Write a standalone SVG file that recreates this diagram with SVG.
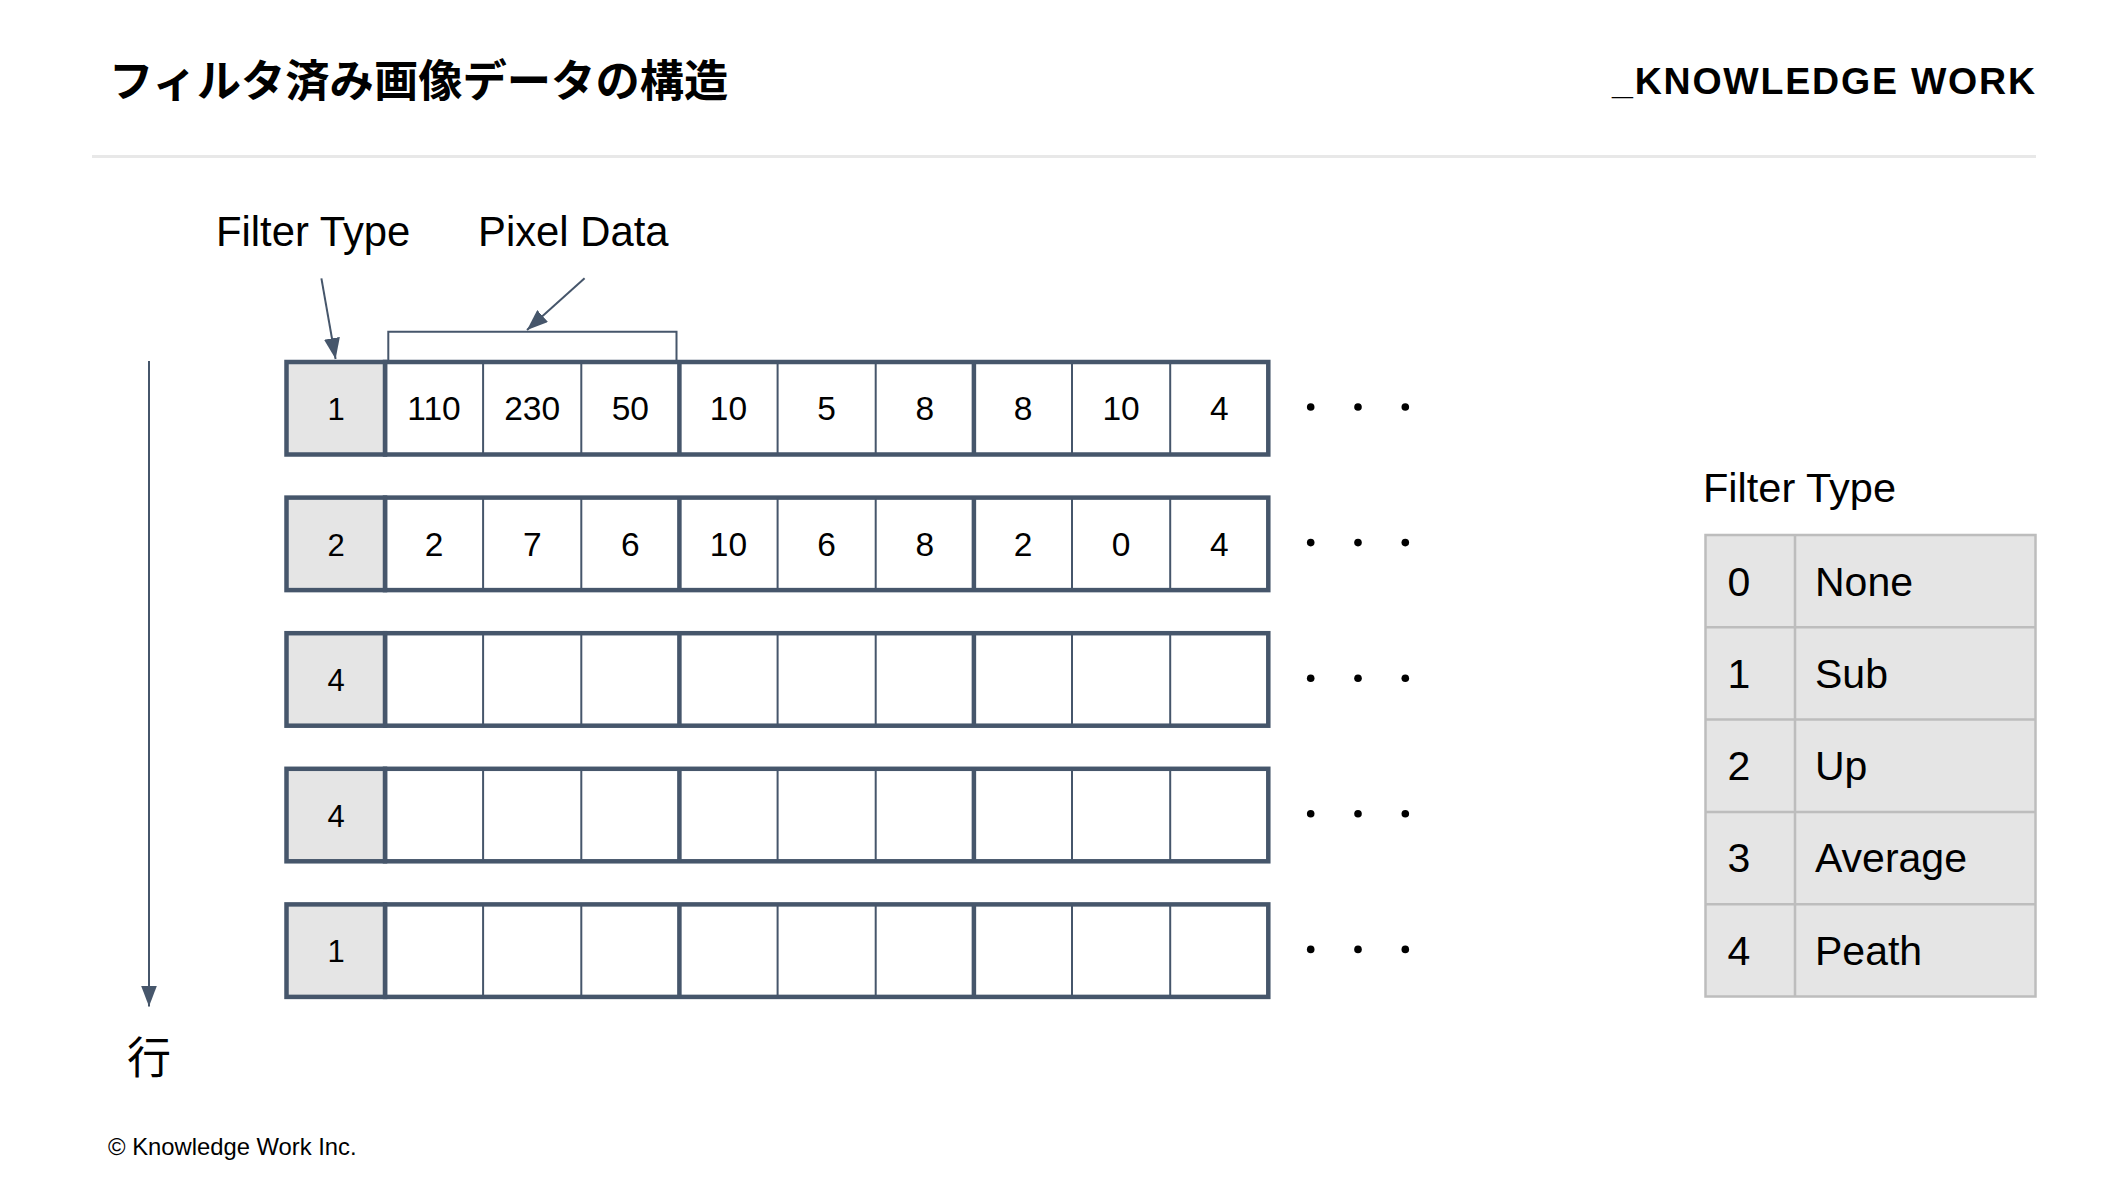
<svg xmlns="http://www.w3.org/2000/svg" width="2128" height="1190" viewBox="0 0 2128 1190">
<style>
.t{font-family:"Liberation Sans",Arial,"Noto Sans CJK JP",sans-serif;fill:#000}
.jp{font-family:"Noto Sans CJK JP","Liberation Sans",sans-serif;fill:#000}
.fc{fill:#e5e5e5;stroke:#46566b;stroke-width:4.5}
.dc{fill:#fff;stroke:#46566b;stroke-width:4.5}
.thin{stroke:#46566b;stroke-width:2;fill:none}
.thick{stroke:#46566b;stroke-width:4.5;fill:none}
.fd{font-size:31px;text-anchor:middle}
.dd{font-size:33.5px;text-anchor:middle}
.dot{fill:#000}
.tb{fill:#e5e5e5;stroke:#bdbdbd;stroke-width:2.5}
.tl{stroke:#bdbdbd;stroke-width:2.5}
.tt{font-size:41px}
.arr{stroke:#46566b;stroke-width:2;fill:none}
</style>
<defs>
<marker id="ah" markerUnits="userSpaceOnUse" markerWidth="22" markerHeight="16" refX="21" refY="8" orient="auto">
<path d="M0,0 L21,8 L0,16 Z" fill="#46566b"/>
</marker>
</defs>

<g id="header">
<text class="jp" x="109" y="97" font-size="44.3" font-weight="bold">フィルタ済み画像データの構造</text>
<text class="t" x="1612" y="94" font-size="37.5" font-weight="bold" textLength="423" lengthAdjust="spacing">_KNOWLEDGE WORK</text>
<line x1="92" y1="156.5" x2="2036" y2="156.5" stroke="#e8e8e8" stroke-width="3"/>
</g>

<g id="labels">
<text class="t" x="216" y="246" font-size="41.8">Filter Type</text>
<text class="t" x="478" y="246" font-size="41.8">Pixel Data</text>
<text class="jp" x="149" y="1074" font-size="44" text-anchor="middle">行</text>
<text class="t" x="108" y="1155" font-size="23.8">© Knowledge Work Inc.</text>
</g>

<g id="connectors">
<line class="arr" x1="321.4" y1="278.3" x2="335.6" y2="359" marker-end="url(#ah)"/>
<line class="arr" x1="584.6" y1="278.3" x2="527" y2="330" marker-end="url(#ah)"/>
<path class="thin" d="M388.3,362 V331.7 H676.5 V362"/>
<line class="arr" x1="149" y1="361" x2="149" y2="1006.5" marker-end="url(#ah)"/>
</g>

<g id="row1">
<rect class="dc" x="385" y="362" width="883.3" height="92.5"/>
<path class="thin" d="M483.1,362V454.5M581.3,362V454.5M777.6,362V454.5M875.7,362V454.5M1072,362V454.5M1170.2,362V454.5"/>
<path class="thick" d="M679.4,362V454.5M973.9,362V454.5"/>
<rect class="fc" x="286.5" y="362" width="98.5" height="92.5"/>
<text class="t fd" x="336" y="420">1</text>
<g class="t dd">
<text x="434" y="420">110</text><text x="532.2" y="420">230</text><text x="630.3" y="420">50</text>
<text x="728.5" y="420">10</text><text x="826.6" y="420">5</text><text x="924.8" y="420">8</text>
<text x="1023" y="420">8</text><text x="1121.1" y="420">10</text><text x="1219.2" y="420">4</text>
</g>
<circle class="dot" cx="1310.7" cy="407" r="3.8"/><circle class="dot" cx="1358" cy="407" r="3.8"/><circle class="dot" cx="1405.3" cy="407" r="3.8"/>
</g>

<g id="row2" transform="translate(0,135.6)">
<rect class="dc" x="385" y="362" width="883.3" height="92.5"/>
<path class="thin" d="M483.1,362V454.5M581.3,362V454.5M777.6,362V454.5M875.7,362V454.5M1072,362V454.5M1170.2,362V454.5"/>
<path class="thick" d="M679.4,362V454.5M973.9,362V454.5"/>
<rect class="fc" x="286.5" y="362" width="98.5" height="92.5"/>
<text class="t fd" x="336" y="420">2</text>
<g class="t dd">
<text x="434" y="420">2</text><text x="532.2" y="420">7</text><text x="630.3" y="420">6</text>
<text x="728.5" y="420">10</text><text x="826.6" y="420">6</text><text x="924.8" y="420">8</text>
<text x="1023" y="420">2</text><text x="1121.1" y="420">0</text><text x="1219.2" y="420">4</text>
</g>
<circle class="dot" cx="1310.7" cy="407" r="3.8"/><circle class="dot" cx="1358" cy="407" r="3.8"/><circle class="dot" cx="1405.3" cy="407" r="3.8"/>
</g>

<g id="row3" transform="translate(0,271.2)">
<rect class="dc" x="385" y="362" width="883.3" height="92.5"/>
<path class="thin" d="M483.1,362V454.5M581.3,362V454.5M777.6,362V454.5M875.7,362V454.5M1072,362V454.5M1170.2,362V454.5"/>
<path class="thick" d="M679.4,362V454.5M973.9,362V454.5"/>
<rect class="fc" x="286.5" y="362" width="98.5" height="92.5"/>
<text class="t fd" x="336" y="420">4</text>
<circle class="dot" cx="1310.7" cy="407" r="3.8"/><circle class="dot" cx="1358" cy="407" r="3.8"/><circle class="dot" cx="1405.3" cy="407" r="3.8"/>
</g>

<g id="row4" transform="translate(0,406.8)">
<rect class="dc" x="385" y="362" width="883.3" height="92.5"/>
<path class="thin" d="M483.1,362V454.5M581.3,362V454.5M777.6,362V454.5M875.7,362V454.5M1072,362V454.5M1170.2,362V454.5"/>
<path class="thick" d="M679.4,362V454.5M973.9,362V454.5"/>
<rect class="fc" x="286.5" y="362" width="98.5" height="92.5"/>
<text class="t fd" x="336" y="420">4</text>
<circle class="dot" cx="1310.7" cy="407" r="3.8"/><circle class="dot" cx="1358" cy="407" r="3.8"/><circle class="dot" cx="1405.3" cy="407" r="3.8"/>
</g>

<g id="row5" transform="translate(0,542.4)">
<rect class="dc" x="385" y="362" width="883.3" height="92.5"/>
<path class="thin" d="M483.1,362V454.5M581.3,362V454.5M777.6,362V454.5M875.7,362V454.5M1072,362V454.5M1170.2,362V454.5"/>
<path class="thick" d="M679.4,362V454.5M973.9,362V454.5"/>
<rect class="fc" x="286.5" y="362" width="98.5" height="92.5"/>
<text class="t fd" x="336" y="420">1</text>
<circle class="dot" cx="1310.7" cy="407" r="3.8"/><circle class="dot" cx="1358" cy="407" r="3.8"/><circle class="dot" cx="1405.3" cy="407" r="3.8"/>
</g>

<g id="filter-type-table">
<text class="t" x="1703" y="502" font-size="41.5">Filter Type</text>
<rect class="tb" x="1705.5" y="535" width="330" height="461.5"/>
<path class="tl" d="M1795,535V996.5M1705.5,627.3H2035.5M1705.5,719.6H2035.5M1705.5,811.9H2035.5M1705.5,904.2H2035.5"/>
<g class="t tt">
<text x="1739" y="595.5" text-anchor="middle">0</text><text x="1815" y="595.5">None</text>
<text x="1739" y="687.8" text-anchor="middle">1</text><text x="1815" y="687.8">Sub</text>
<text x="1739" y="780" text-anchor="middle">2</text><text x="1815" y="780">Up</text>
<text x="1739" y="872.3" text-anchor="middle">3</text><text x="1815" y="872.3">Average</text>
<text x="1739" y="964.7" text-anchor="middle">4</text><text x="1815" y="964.7">Peath</text>
</g>
</g>
</svg>
